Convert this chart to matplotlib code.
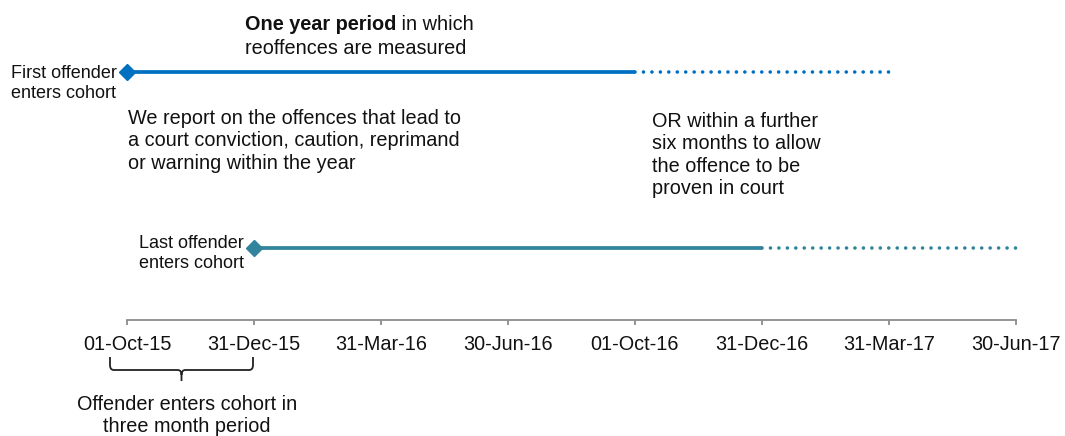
import numpy as np
import matplotlib.pyplot as plt
from matplotlib.path import Path
from matplotlib.patches import PathPatch

plt.rcParams['font.family'] = ['Liberation Sans', 'DejaVu Sans']

# quarter dates along the axis
tick_labels = ["01-Oct-15", "31-Dec-15", "31-Mar-16", "30-Jun-16",
               "01-Oct-16", "31-Dec-16", "31-Mar-17", "30-Jun-17"]

# first and last offender entering the cohort
cohort_names = ["First offender\nenters cohort", "Last offender\nenters cohort"]
entry_idx = [0, 1]
year_end_idx = [4, 5]
proven_end_idx = [6, 7]

colours = ["#0070C0", "#31849B"]
row_y = [72, 248]
name_top = [65, 235]

TEXT = "#111111"
AXIS = "#8c8c8c"


def px(x):
    # horizontal pixel -> axis position (127 px per quarter)
    return (x - 127) / 127.0


def brace(ax, x0, x1, y, h, r):
    xm = (x0 + x1) / 2.0
    verts = [(x0, y), (x0, y + h - 5), (x0, y + h), (x0 + r, y + h),
             (xm - r, y + h), (xm, y + h), (xm, y + h + 5), (xm, y + h + 11),
             (xm, y + h + 5), (xm, y + h), (xm + r, y + h),
             (x1 - r, y + h), (x1, y + h), (x1, y + h - 5), (x1, y)]
    codes = [Path.MOVETO, Path.LINETO, Path.CURVE3, Path.CURVE3,
             Path.LINETO, Path.CURVE3, Path.CURVE3, Path.LINETO,
             Path.MOVETO, Path.CURVE3, Path.CURVE3,
             Path.LINETO, Path.CURVE3, Path.CURVE3, Path.LINETO]
    ax.add_patch(PathPatch(Path(verts, codes), fill=False, lw=1.3,
                           edgecolor="#222222", capstyle='butt'))


fig = plt.figure(figsize=(10.65, 4.36), dpi=100)
ax = fig.add_axes([0, 0, 1, 1])
ax.set_xlim(-1, (1065 - 127) / 127.0)
ax.set_ylim(436, 0)

for s in ['top', 'left', 'right']:
    ax.spines[s].set_visible(False)
ax.spines['bottom'].set_position(('data', 320))
ax.spines['bottom'].set_bounds(0, len(tick_labels) - 1)
ax.spines['bottom'].set_color(AXIS)
ax.spines['bottom'].set_linewidth(1.3)
ax.set_yticks([])
ax.set_xticks(np.arange(len(tick_labels)), tick_labels)
ax.tick_params(axis='x', direction='out', length=3.6, width=1.3,
               color=AXIS, pad=7.5, labelsize=14.3, labelcolor=TEXT)

for i in range(len(cohort_names)):
    y = row_y[i]
    ax.plot([entry_idx[i], year_end_idx[i]], [y, y], color=colours[i],
            lw=2.7, solid_capstyle='butt', zorder=3)
    ax.plot([year_end_idx[i], proven_end_idx[i]], [y, y], color=colours[i],
            lw=2.6, linestyle=(0, (0.01, 2.33)), dash_capstyle='round', zorder=2)
    ax.plot([entry_idx[i]], [y], marker='D', ms=8, color=colours[i],
            mec=colours[i], zorder=4)
    ax.text(entry_idx[i] - 0.08, name_top[i], cohort_names[i], ha='right',
            va='top', multialignment='left', fontsize=13, color=TEXT,
            linespacing=1.22)

bold = ax.text(px(245), 15, "One year period", fontsize=14.3, weight='bold',
               ha='left', va='top', color=TEXT)
ax.annotate(" in which", xy=(1, 0), xycoords=bold, ha='left', va='bottom',
            fontsize=14.3, color=TEXT)
ax.text(px(245), 39, "reoffences are measured", fontsize=14.3,
        ha='left', va='top', color=TEXT)

ax.text(px(128), 109, "We report on the offences that lead to\n"
        "a court conviction, caution, reprimand\nor warning within the year",
        fontsize=14.3, ha='left', va='top', color=TEXT, linespacing=1.22)

ax.text(px(652), 112, "OR within a further\nsix months to allow\n"
        "the offence to be\nproven in court",
        fontsize=14.3, ha='left', va='top', color=TEXT, linespacing=1.22)

brace(ax, px(110), px(253), 357, 13, 0.03)
ax.text(px(187), 395, "Offender enters cohort in\nthree month period",
        fontsize=14.3, ha='center', va='top', multialignment='center',
        color=TEXT, linespacing=1.22)

fig.savefig("out.png", dpi=100)
